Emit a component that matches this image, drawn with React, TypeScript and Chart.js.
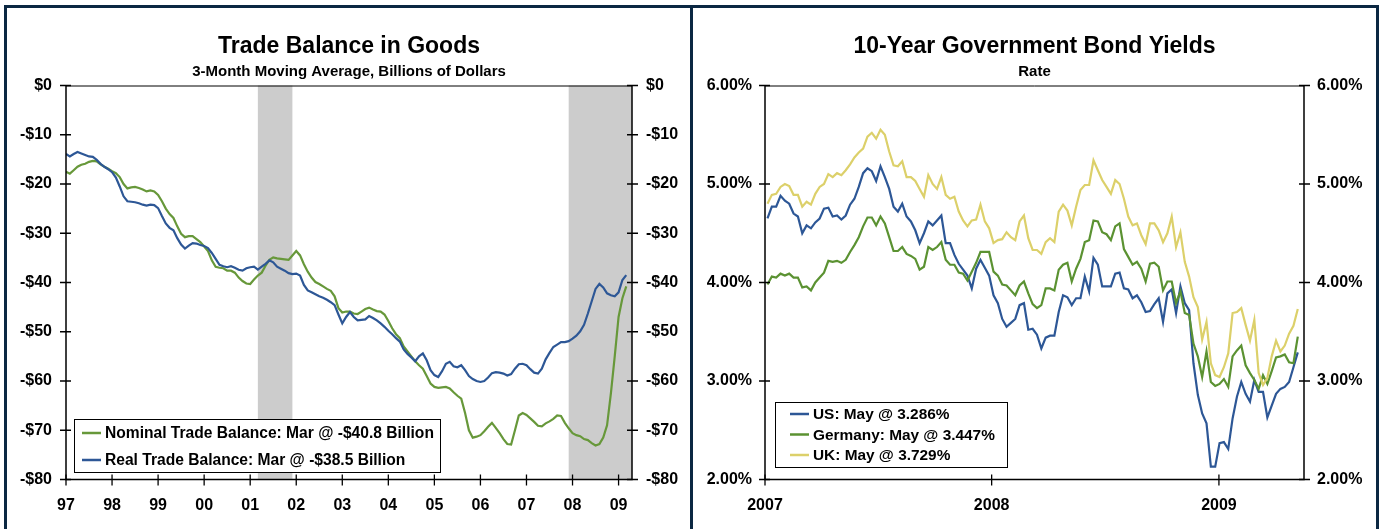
import React, { useEffect, useRef } from 'react';
import { Chart, registerables } from 'chart.js';

Chart.register(...registerables);

const FONT = "'Liberation Sans', Arial, sans-serif";
const NAVY = '#0b2842';
const BLUE = '#2d5796';
const GREEN = '#67983a';
const DE_GREEN = '#5b9232';
const UK_YELLOW = '#dcd06a';
const SHADE = '#cccccc';

// ---------------- Trade balance (monthly, Jan 1997 = index 0) ----------------
const tradeYearLabels = ['97', '98', '99', '00', '01', '02', '03', '04', '05', '06', '07', '08', '09'];
const tradeYearTickMonths = [0, 12, 24, 36, 48, 60, 72, 84, 96, 108, 120, 132, 144];
const tradeAxisEndMonth = 147.5;
const tradeYTicks = [0, -10, -20, -30, -40, -50, -60, -70, -80];
const tradeRecessions = [[50, 59], [131, 147.5]];

const nominalTradeBalance = [
  -17.5, -17.9, -17.2, -16.5, -16.1, -15.9, -15.5, -15.3, -15.4, -16.0, -16.5, -16.9,
  -17.4, -17.8, -18.6, -20.0, -20.9, -20.7, -20.6, -20.8, -21.1, -21.5, -21.3, -21.5,
  -22.2, -23.5, -25.0, -26.1, -26.9, -28.6, -30.1, -30.8, -30.6, -30.6, -31.2, -31.8,
  -32.7, -33.6, -35.5, -36.8, -37.0, -37.1, -37.6, -37.6, -38.0, -39.0, -39.7, -40.2,
  -40.3, -39.4, -38.6, -38.0, -36.6, -35.4, -34.9, -35.1, -35.2, -35.3, -35.4, -34.5,
  -33.6, -34.5, -36.3, -37.8, -39.0, -39.9, -40.3, -40.8, -41.3, -41.7, -42.8, -45.2,
  -46.1, -45.9, -45.9, -46.3, -46.4, -45.9, -45.4, -45.1, -45.5, -45.8, -45.9, -46.5,
  -47.8, -49.3, -50.5, -51.3, -53.0, -54.0, -55.0, -56.0, -56.8, -57.5, -59.0, -60.5,
  -61.2, -61.4, -61.3, -61.2, -61.5, -62.3, -63.0, -63.6, -66.5, -70.0, -71.5, -71.3,
  -71.0, -70.2, -69.3, -68.5, -69.5, -70.6, -71.8, -72.8, -72.9, -70.0, -67.0, -66.5,
  -66.9, -67.6, -68.3, -69.1, -69.2, -68.6, -68.2, -67.7, -67.0, -67.1, -68.5, -69.6,
  -70.6, -71.0, -71.2, -71.8, -72.0, -72.6, -73.1, -72.8, -71.5, -69.0, -62.5, -55.0,
  -47.0, -43.2, -40.8,
];

const realTradeBalance = [
  -13.9, -14.4, -13.9, -13.5, -13.8, -14.1, -14.4, -14.5, -15.1, -15.9, -16.5, -17.0,
  -17.6, -18.7, -20.5, -22.5, -23.5, -23.6, -23.7, -23.9, -24.2, -24.4, -24.2, -24.3,
  -24.9, -26.5, -28.0, -28.9, -29.4, -31.0, -32.3, -33.1, -32.5, -32.0, -32.1, -32.4,
  -32.6, -33.0, -34.0, -35.2, -36.4, -36.7, -36.9, -36.7, -37.0, -37.4, -37.6, -37.1,
  -36.9, -36.8, -37.4, -36.8, -36.2, -35.5, -35.9, -36.8, -37.2, -37.6, -38.1, -38.3,
  -38.2, -38.6, -40.5, -41.6, -42.0, -42.4, -42.8, -43.1, -43.5, -44.0, -44.6, -46.5,
  -48.3, -47.0, -46.0, -47.0, -47.7, -47.6, -47.5, -46.8, -47.2, -47.7, -48.3, -49.0,
  -49.8, -50.5, -51.3, -52.0, -53.6, -54.5, -55.2, -56.0, -55.0, -54.4, -55.8, -57.8,
  -58.8, -59.2, -58.0, -56.5, -56.1, -57.0, -57.2, -56.8, -57.8, -59.0, -59.6, -60.0,
  -60.2, -60.0, -59.3, -58.4, -58.2, -58.3, -58.5, -58.9, -58.6, -57.5, -56.6, -56.5,
  -56.8, -57.6, -58.3, -58.5, -57.5, -55.6, -54.3, -53.1, -52.6, -52.1, -52.1, -51.9,
  -51.4, -50.8, -49.9, -48.6, -46.3, -43.8, -41.3, -40.3, -41.0, -42.2, -42.6, -42.8,
  -42.0, -39.5, -38.5,
];

// ---------------- Bond yields (weekly, day 4 of 2007 + 7 per week) ----------------
const bondFirstDay = 4;
const bondStepDays = 7;
const bondYearLabels = ['2007', '2008', '2009'];
const bondYearTickDays = [0, 365, 731];
const bondAxisEndDay = 868;
const bondYTicks = [6, 5, 4, 3, 2];

const usYield = [
  4.65, 4.77, 4.77, 4.88, 4.83, 4.80, 4.70, 4.67, 4.50, 4.58, 4.55, 4.61,
  4.65, 4.75, 4.76, 4.67, 4.68, 4.64, 4.68, 4.79, 4.85, 4.97, 5.11, 5.16,
  5.13, 5.03, 5.18, 5.07, 4.95, 4.77, 4.72, 4.80, 4.67, 4.62, 4.53, 4.40,
  4.50, 4.62, 4.58, 4.63, 4.68, 4.40, 4.40, 4.28, 4.19, 4.13, 4.07, 3.94,
  4.14, 4.23, 4.15, 4.07, 3.87, 3.79, 3.63, 3.55, 3.59, 3.63, 3.77, 3.79,
  3.52, 3.53, 3.47, 3.33, 3.44, 3.46, 3.46, 3.70, 3.87, 3.85, 3.77, 3.84,
  3.84, 4.06, 3.91, 4.25, 4.18, 3.96, 3.96, 3.96, 4.09, 4.10, 3.94, 3.93,
  3.84, 3.87, 3.80, 3.70, 3.71, 3.78, 3.84, 3.60, 3.89, 3.93, 3.69, 3.96,
  3.79, 3.72, 3.18, 2.86, 2.67, 2.57, 2.13, 2.13, 2.37, 2.38, 2.31, 2.62,
  2.84, 2.99, 2.87, 2.79, 3.01, 2.89, 2.89, 2.63, 2.75, 2.87, 2.92, 2.94,
  2.99, 3.14, 3.29,
];

const germanyYield = [
  3.98, 4.06, 4.05, 4.09, 4.07, 4.09, 4.05, 4.05, 3.95, 3.96, 3.92, 4.00,
  4.05, 4.10, 4.22, 4.21, 4.22, 4.20, 4.23, 4.31, 4.38, 4.46, 4.57, 4.66,
  4.66, 4.58, 4.67, 4.60, 4.46, 4.32, 4.32, 4.36, 4.29, 4.27, 4.24, 4.13,
  4.16, 4.36, 4.33, 4.36, 4.41, 4.23, 4.18, 4.18, 4.10, 4.09, 4.02, 4.11,
  4.20, 4.31, 4.31, 4.31, 4.11, 4.07, 3.98, 3.97, 3.92, 3.87, 3.97, 4.01,
  3.89, 3.78, 3.74, 3.77, 3.94, 3.94, 3.92, 4.13, 4.18, 4.20, 4.01, 4.14,
  4.24, 4.41, 4.43, 4.63, 4.62, 4.51, 4.49, 4.43, 4.57, 4.60, 4.34, 4.26,
  4.18, 4.21, 4.14, 4.01, 4.19, 4.20, 4.16, 3.92, 4.01, 4.01, 3.79, 3.91,
  3.69, 3.67, 3.38, 3.25, 3.04, 3.30, 2.99, 2.95, 2.97, 3.02, 2.94, 3.25,
  3.31, 3.36, 3.16, 3.08, 3.01, 2.92, 3.06, 2.97, 3.10, 3.24, 3.25, 3.27,
  3.19, 3.18, 3.45,
];

const ukYield = [
  4.80, 4.89, 4.90, 4.97, 5.00, 4.98, 4.89, 4.89, 4.77, 4.82, 4.79, 4.90,
  4.97, 5.00, 5.10, 5.07, 5.11, 5.09, 5.14, 5.20, 5.27, 5.32, 5.36, 5.48,
  5.52, 5.46, 5.55, 5.50, 5.33, 5.19, 5.18, 5.23, 5.07, 5.07, 5.03, 4.95,
  4.87, 5.09, 5.00, 4.95, 5.07, 4.89, 4.85, 4.87, 4.72, 4.63, 4.57, 4.63,
  4.64, 4.79, 4.62, 4.55, 4.40, 4.43, 4.44, 4.51, 4.46, 4.43, 4.62, 4.68,
  4.45, 4.33, 4.33, 4.29, 4.41, 4.45, 4.41, 4.72, 4.79, 4.73, 4.58, 4.77,
  4.94, 4.99, 4.99, 5.24, 5.14, 5.04, 4.97, 4.90, 5.04, 5.00, 4.85, 4.67,
  4.58, 4.60, 4.48, 4.39, 4.60, 4.60, 4.53, 4.41, 4.50, 4.67, 4.36, 4.51,
  4.21, 4.06, 3.85, 3.75, 3.42, 3.60, 3.18, 3.06, 3.04, 3.14, 3.28, 3.69,
  3.70, 3.74, 3.57, 3.41, 3.62, 3.08, 2.96, 3.03, 3.25, 3.41, 3.30, 3.36,
  3.48, 3.56, 3.73,
];

// ---------------- helpers / plugins ----------------
const shadePlugin = {
  id: 'shade',
  beforeDatasetsDraw(chart: any, _a: any, opts: any) {
    const periods = opts && opts.periods;
    if (!periods || !periods.length) return;
    const { ctx, chartArea } = chart;
    const xs = chart.scales.x;
    ctx.save();
    ctx.fillStyle = SHADE;
    periods.forEach(([a, b]: number[]) => {
      const x1 = Math.max(xs.getPixelForValue(a), chartArea.left);
      const x2 = Math.min(xs.getPixelForValue(b), chartArea.right);
      ctx.fillRect(x1, chartArea.top, x2 - x1, chartArea.bottom - chartArea.top);
    });
    ctx.restore();
  },
};

const framePlugin = {
  id: 'frame',
  afterDatasetsDraw(chart: any) {
    const { ctx, chartArea } = chart;
    const { left, right, top, bottom } = chartArea;
    ctx.save();
    ctx.strokeStyle = '#000';
    ctx.lineWidth = 1;
    ctx.beginPath();
    ctx.moveTo(left, top + 0.5);
    ctx.lineTo(right, top + 0.5);
    ctx.stroke();
    ctx.lineWidth = 1.5;
    ctx.beginPath();
    ctx.moveTo(left, top);
    ctx.lineTo(left, bottom);
    ctx.lineTo(right, bottom);
    ctx.lineTo(right, top);
    ctx.stroke();
    // crossing tick marks
    ctx.lineWidth = 1.3;
    const y = chart.scales.y;
    y.ticks.forEach((t: any) => {
      const py = y.getPixelForValue(t.value);
      ctx.beginPath();
      ctx.moveTo(left - 6, py);
      ctx.lineTo(left + 5, py);
      ctx.moveTo(right - 5, py);
      ctx.lineTo(right + 6, py);
      ctx.stroke();
    });
    const x = chart.scales.x;
    x.ticks.forEach((t: any) => {
      const px = x.getPixelForValue(t.value);
      ctx.beginPath();
      ctx.moveTo(px, bottom - 5);
      ctx.lineTo(px, bottom + 6);
      ctx.stroke();
    });
    ctx.restore();
  },
};

const titlePlugin = {
  id: 'titles',
  afterDraw(chart: any, _a: any, opts: any) {
    const { ctx, chartArea } = chart;
    const cx = (chartArea.left + chartArea.right) / 2;
    ctx.save();
    ctx.fillStyle = '#000';
    ctx.textAlign = 'center';
    ctx.textBaseline = 'alphabetic';
    ctx.font = `bold 23px ${FONT}`;
    ctx.fillText(opts.title, cx, opts.titleY);
    ctx.font = `bold 15px ${FONT}`;
    ctx.fillText(opts.subtitle, cx, opts.subtitleY);
    ctx.restore();
  },
};

const boxLegendPlugin = {
  id: 'boxLegend',
  afterDatasetsDraw(chart: any, _a: any, o: any) {
    if (!o || !o.show) return;
    const { ctx, chartArea } = chart;
    const items = chart.data.datasets.map((d: any) => ({ label: d.label, color: d.borderColor }));
    ctx.save();
    ctx.font = o.font;
    const textW = Math.max(...items.map((i: any) => ctx.measureText(i.label).width));
    const left = Math.round(chartArea.left + o.offsetX);
    const width = Math.round(o.textX + textW + o.padRight);
    const height = Math.round(o.firstRow + (items.length - 1) * o.rowH + o.padBottom);
    const top = Math.round(chartArea.bottom - o.offsetBottom - height);
    ctx.fillStyle = '#fff';
    ctx.fillRect(left, top, width, height);
    ctx.strokeStyle = '#000';
    ctx.lineWidth = 1;
    ctx.strokeRect(left + 0.5, top + 0.5, width, height);
    items.forEach((it: any, i: number) => {
      const yy = top + o.firstRow + i * o.rowH;
      ctx.strokeStyle = it.color;
      ctx.lineWidth = 2.5;
      ctx.beginPath();
      ctx.moveTo(left + o.lineX, yy);
      ctx.lineTo(left + o.lineX + o.lineLen, yy);
      ctx.stroke();
      ctx.fillStyle = '#000';
      ctx.textAlign = 'left';
      ctx.textBaseline = 'middle';
      ctx.fillText(it.label, left + o.textX, yy + 1);
    });
    ctx.restore();
  },
};

function lineDs(label: string, pts: any[], color: string, order: number) {
  return {
    label,
    data: pts,
    borderColor: color,
    backgroundColor: color,
    borderWidth: 2.2,
    pointRadius: 0,
    tension: 0,
    fill: false,
    order,
  };
}

const tickFont = { family: FONT, size: 16, weight: 'bold' as const };

function yAxis(position: string, width: number, min: number, max: number, values: number[], fmt: (v: number) => string, pad: number) {
  return {
    type: 'linear',
    position,
    min,
    max,
    grid: { display: false, drawTicks: false },
    border: { display: false },
    afterBuildTicks: (s: any) => {
      s.ticks = values.map((v) => ({ value: v }));
    },
    afterFit: (s: any) => {
      s.width = width;
    },
    ticks: {
      color: '#000',
      font: tickFont,
      padding: pad,
      callback: (v: any) => fmt(Number(v)),
    },
  };
}

function xAxis(max: number, tickVals: number[], labels: string[]) {
  return {
    type: 'linear',
    position: 'bottom',
    min: 0,
    max,
    grid: { display: false, drawTicks: false },
    border: { display: false },
    afterBuildTicks: (s: any) => {
      s.ticks = tickVals.map((v) => ({ value: v }));
    },
    afterFit: (s: any) => {
      s.height = 49.5;
    },
    ticks: {
      color: '#000',
      font: tickFont,
      padding: 16,
      autoSkip: false,
      maxRotation: 0,
      callback: (_v: any, i: number) => labels[i],
    },
  };
}

function TradeChart() {
  const ref = useRef<HTMLCanvasElement>(null);
  useEffect(() => {
    const nominalPts = nominalTradeBalance.map((v, i) => ({ x: i, y: v }));
    const realPts = realTradeBalance.map((v, i) => ({ x: i, y: v }));
    const fmt = (v: number) => (v === 0 ? '$0' : `-$${Math.abs(v)}`);
    const chart = new Chart(ref.current as HTMLCanvasElement, {
      type: 'line',
      data: {
        datasets: [
          lineDs('Nominal Trade Balance: Mar @ -$40.8 Billion', nominalPts, GREEN, 2),
          lineDs('Real Trade Balance: Mar @ -$38.5 Billion', realPts, BLUE, 1),
        ],
      },
      options: {
        animation: false,
        responsive: false,
        devicePixelRatio: 1,
        parsing: false as any,
        layout: { padding: { top: 77.5, left: 0, right: 0, bottom: 0 } },
        scales: {
          x: xAxis(tradeAxisEndMonth, tradeYearTickMonths, tradeYearLabels) as any,
          y: yAxis('left', 59, -80, 0, tradeYTicks, fmt, 14) as any,
          y2: yAxis('right', 58, -80, 0, tradeYTicks, fmt, 14) as any,
        },
        plugins: {
          legend: { display: false },
          tooltip: { enabled: false },
          shade: { periods: tradeRecessions },
          titles: {
            title: 'Trade Balance in Goods',
            subtitle: '3-Month Moving Average, Billions of Dollars',
            titleY: 45,
            subtitleY: 68,
          },
          boxLegend: {
            show: true,
            font: `bold 15.6px ${FONT}`,
            offsetX: 8,
            lineX: 8,
            lineLen: 19,
            textX: 31,
            padRight: 6,
            firstRow: 14,
            rowH: 27,
            padBottom: 12,
            offsetBottom: 7.5,
          },
        } as any,
      },
      plugins: [shadePlugin, framePlugin, boxLegendPlugin, titlePlugin],
    });
    return () => chart.destroy();
  }, []);
  return <canvas ref={ref} width={683} height={521} style={{ position: 'absolute', left: 7, top: 8, width: 683, height: 521 }} />;
}

function BondChart() {
  const ref = useRef<HTMLCanvasElement>(null);
  useEffect(() => {
    const toPts = (arr: number[]) => arr.map((v, i) => ({ x: bondFirstDay + bondStepDays * i, y: v }));
    const fmt = (v: number) => `${v.toFixed(2)}%`;
    const chart = new Chart(ref.current as HTMLCanvasElement, {
      type: 'line',
      data: {
        datasets: [
          lineDs('US: May @ 3.286%', toPts(usYield), BLUE, 3),
          lineDs('Germany: May @ 3.447%', toPts(germanyYield), DE_GREEN, 2),
          lineDs('UK: May @ 3.729%', toPts(ukYield), UK_YELLOW, 1),
        ],
      },
      options: {
        animation: false,
        responsive: false,
        devicePixelRatio: 1,
        parsing: false as any,
        layout: { padding: { top: 77.5, left: 0, right: 0, bottom: 0 } },
        scales: {
          x: xAxis(bondAxisEndDay, bondYearTickDays, bondYearLabels) as any,
          y: yAxis('left', 72, 2, 6, bondYTicks, fmt, 13) as any,
          y2: yAxis('right', 72, 2, 6, bondYTicks, fmt, 13) as any,
        },
        plugins: {
          legend: { display: false },
          tooltip: { enabled: false },
          titles: {
            title: '10-Year Government Bond Yields',
            subtitle: 'Rate',
            titleY: 45,
            subtitleY: 68,
          },
          boxLegend: {
            show: true,
            font: `bold 15.4px ${FONT}`,
            offsetX: 10,
            lineX: 15,
            lineLen: 19,
            textX: 38,
            padRight: 12,
            firstRow: 12,
            rowH: 20.5,
            padBottom: 12,
            offsetBottom: 13,
          },
        } as any,
      },
      plugins: [shadePlugin, framePlugin, boxLegendPlugin, titlePlugin],
    });
    return () => chart.destroy();
  }, []);
  return <canvas ref={ref} width={683} height={521} style={{ position: 'absolute', left: 693, top: 8, width: 683, height: 521 }} />;
}

export default function App() {
  const bar = (s: React.CSSProperties) => <div style={{ position: 'absolute', background: NAVY, ...s }} />;
  return (
    <div style={{ position: 'absolute', left: 0, top: 0, width: 1383, height: 529, background: '#fff', overflow: 'hidden' }}>
      <TradeChart />
      <BondChart />
      {bar({ left: 4, top: 5, width: 1375, height: 3 })}
      {bar({ left: 4, top: 5, width: 3, height: 524 })}
      {bar({ left: 690, top: 5, width: 3, height: 524 })}
      {bar({ left: 1376, top: 5, width: 3, height: 524 })}
    </div>
  );
}
